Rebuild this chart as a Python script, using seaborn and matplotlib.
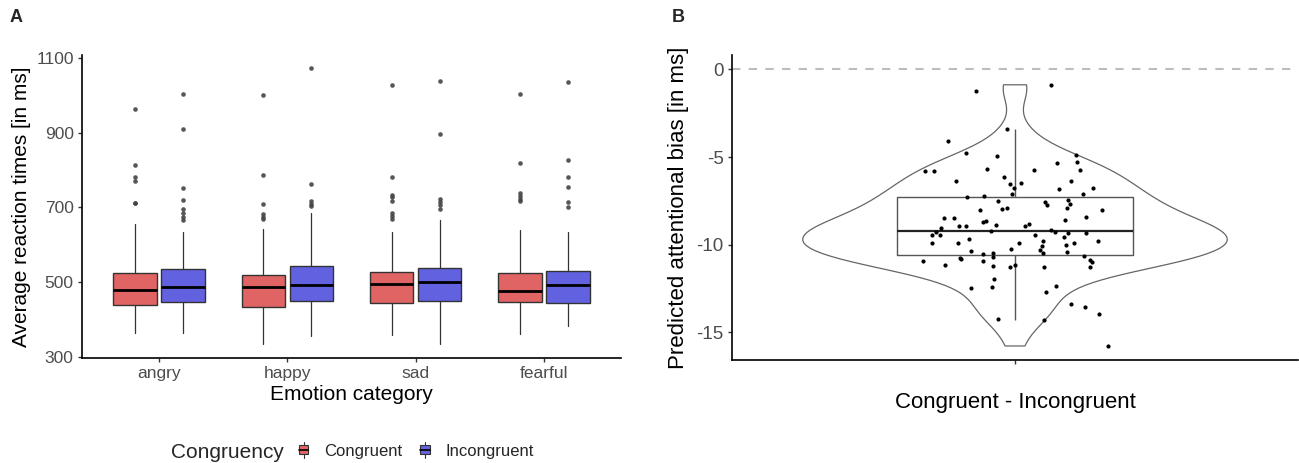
import numpy as np
import pandas as pd
import seaborn as sns
import matplotlib.pyplot as plt
from matplotlib.patches import Patch, Rectangle
from matplotlib.lines import Line2D
from matplotlib.legend_handler import HandlerBase

sns.set_theme(style="ticks")
plt.rcParams['font.family'] = ['Liberation Sans', 'DejaVu Sans']

# ---- panel A: box summaries (ms) ----
emotions = ['angry', 'happy', 'sad', 'fearful']

cong_lo = [364, 333, 357, 360]
cong_q1 = [439, 434, 443, 446]
cong_med = [479, 486, 494, 476]
cong_q3 = [525, 519, 527, 525]
cong_hi = [655, 643, 634, 639]
cong_out = [[965, 813, 783, 770, 711, 711],
            [1001, 787, 709, 683, 675, 669],
            [1028, 781, 733, 727, 718, 684, 678, 670],
            [1003, 820, 738, 731, 722, 718]]

incong_lo = [363, 356, 333, 383]
incong_q1 = [447, 449, 450, 444]
incong_med = [487, 493, 500, 493]
incong_q3 = [534, 544, 537, 531]
incong_hi = [634, 685, 666, 634]
incong_out = [[1004, 910, 753, 721, 696, 686, 675, 666],
              [1073, 762, 717, 710, 704],
              [1038, 897, 723, 714, 707, 697],
              [1036, 828, 781, 756, 715, 700]]

# ---- panel B: predicted attentional bias per participant (ms) + jitter ----
bias = [-1.22, -4.09, -4.79, -5.78, -5.78, -5.70, -6.39, -7.28, -7.23, -8.01,
        -0.88, -3.39, -4.96, -4.91, -5.35, -5.31, -5.73, -5.73, -6.14, -6.35,
        -6.47, -6.56, -6.79, -6.85, -6.75, -7.11, -7.13, -7.53, -7.59, -7.74,
        -7.46, -7.67, -7.95, -7.93, -7.90, -8.04,
        -8.48, -8.48, -8.73, -8.65, -8.94, -8.96, -9.05, -9.26, -9.47, -9.45,
        -9.70, -9.93, -9.91, -10.35, -10.52, -10.78, -10.82, -10.95, -10.94,
        -11.16, -12.49,
        -8.43, -8.88, -8.60, -8.92, -8.81, -9.24, -9.17, -9.30, -9.32, -9.32,
        -9.45, -9.58, -9.78, -9.89, -9.93, -9.79, -10.02, -10.10, -10.25, -10.31,
        -10.42, -10.50, -10.50, -10.69, -10.65, -10.90, -10.99, -11.20, -11.30,
        -11.16, -11.28, -11.26, -11.95, -12.44, -12.38, -12.72, -13.41, -13.56,
        -13.94, -14.26, -14.30, -15.78]
jitter = [-0.083, -0.143, -0.103, -0.191, -0.172, -0.059, -0.126, -0.102, -0.065, -0.074,
          0.077, -0.017, -0.038, 0.129, 0.090, 0.131, 0.040, 0.137, -0.024, 0.118,
          0.012, -0.010, -0.003, 0.094, 0.166, -0.007, 0.145, -0.036, 0.064, 0.067,
          0.113, 0.116, -0.027, -0.018, 0.110, 0.184,
          -0.151, -0.130, -0.068, -0.062, -0.119, -0.104, -0.157, -0.168, -0.176, -0.160,
          -0.097, -0.176, -0.120, -0.093, -0.067, -0.117, -0.115, -0.067, -0.195,
          -0.149, -0.094,
          0.151, -0.040, 0.106, 0.022, 0.029, -0.050, 0.076, 0.084, 0.113, 0.151,
          0.042, 0.103, 0.060, 0.008, 0.125, 0.175, 0.108, 0.058, -0.009, 0.052,
          0.111, 0.060, -0.046, -0.047, 0.146, 0.159, 0.163, -0.047, -0.010,
          0.000, 0.062, 0.158, -0.044, -0.049, 0.087, 0.065, 0.119, 0.149,
          0.178, -0.036, 0.061, 0.198]

RED = '#E06464'
BLUE = '#6262E0'
EDGE = '#333333'
TICKLAB = '#4D4D4D'


class BoxHandler(HandlerBase):
    """small ggplot-like boxplot key"""
    def create_artists(self, legend, orig_handle, xdescent, ydescent,
                       width, height, fontsize, trans):
        x0, y0 = -xdescent, -ydescent
        cx = x0 + width / 2
        wh = Line2D([cx, cx], [y0 - 0.15 * height, y0 + 1.15 * height],
                    color=EDGE, lw=0.8, transform=trans)
        rect = Rectangle((x0, y0 + 0.15 * height), width, 0.7 * height,
                         facecolor=orig_handle.get_facecolor(), edgecolor=EDGE,
                         lw=0.8, transform=trans)
        med = Line2D([x0, x0 + width], [y0 + 0.5 * height] * 2,
                     color='black', lw=1.2, transform=trans)
        return [wh, rect, med]


def style_axes(ax, labelsize):
    sns.despine(ax=ax)
    for s in ['left', 'bottom']:
        ax.spines[s].set_linewidth(1.2)
        ax.spines[s].set_color('black')
    ax.tick_params(length=3, width=1, color=EDGE, labelcolor=TICKLAB,
                   labelsize=labelsize, pad=3)


fig = plt.figure(figsize=(12.99, 4.63), dpi=100)
W, H = 1299, 463
axA = fig.add_axes([82 / W, 105 / H, 539 / W, 303 / H])
axB = fig.add_axes([732 / W, 103 / H, 566 / W, 305 / H])

# ---- A ----
stats = []
pos = []
cols = []
for i in range(len(emotions)):
    stats.append(dict(whislo=cong_lo[i], q1=cong_q1[i], med=cong_med[i],
                      q3=cong_q3[i], whishi=cong_hi[i], fliers=cong_out[i]))
    stats.append(dict(whislo=incong_lo[i], q1=incong_q1[i], med=incong_med[i],
                      q3=incong_q3[i], whishi=incong_hi[i], fliers=incong_out[i]))
    pos += [i - 0.1875, i + 0.1875]
    cols += [RED, BLUE]

bp = axA.bxp(stats, positions=pos, widths=0.3375, patch_artist=True,
             showcaps=False, manage_ticks=False,
             boxprops=dict(edgecolor=EDGE, linewidth=1),
             medianprops=dict(color='black', linewidth=2),
             whiskerprops=dict(color=EDGE, linewidth=0.9),
             flierprops=dict(marker='o', markersize=3.3, markerfacecolor='#444444',
                             markeredgecolor='none', alpha=0.9))
for patch, c in zip(bp['boxes'], cols):
    patch.set_facecolor(c)

axA.set_xlim(-0.6, 3.6)
axA.set_ylim(296.5, 1108.8)
axA.set_xticks(range(len(emotions)))
axA.set_xticklabels(emotions)
axA.set_yticks([300, 500, 700, 900, 1100])
style_axes(axA, 12.5)
axA.set_ylabel('Average reaction times [in ms]', fontsize=15, color='black', labelpad=4)
axA.set_xlabel('Emotion category', fontsize=15, color='black', labelpad=3)

# ---- B ----
df = pd.DataFrame({'contrast': 'Congruent - Incongruent', 'bias': bias})
b = np.asarray(bias)
sd = b.std(ddof=1)
iqr = np.subtract(*np.percentile(b, [75, 25]))
bw = 0.9 * min(sd, iqr / 1.34) / sd * len(b) ** -0.2   # like R's bw.nrd0

axB.axhline(0, color='#BDBDBD', linestyle=(0, (4, 4)), linewidth=1.5, zorder=0)
sns.violinplot(data=df, x='contrast', y='bias', ax=axB, cut=0, inner=None,
               fill=False, color='#666666', linewidth=0.9, width=0.9,
               bw_method=bw)
sns.boxplot(data=df, x='contrast', y='bias', ax=axB, width=0.5, showfliers=False,
            showcaps=False, fill=False, color='#555555', linewidth=1,
            medianprops=dict(color='#222222', linewidth=1.6))
axB.scatter(jitter, bias, s=9, color='black', linewidths=0, zorder=3)

axB.set_xlim(-0.6, 0.6)
axB.set_ylim(-16.58, 0.82)
axB.set_yticks([0, -5, -10, -15])
axB.set_yticklabels(['0', '-5', '-10', '-15'])
axB.set_xticks([0])
axB.set_xticklabels([''])
style_axes(axB, 13.5)
axB.set_ylabel('Predicted attentional bias [in ms]', fontsize=16, color='black', labelpad=5)
axB.set_xlabel('Congruent - Incongruent', fontsize=16, color='black', labelpad=17)

# ---- panel tags + legend ----
fig.text(10 / W, 1 - 17 / H, 'A', fontsize=13, fontweight='bold', va='center')
fig.text(672 / W, 1 - 17 / H, 'B', fontsize=13, fontweight='bold', va='center')

fig.text(171 / W, 1 - 452 / H, 'Congruency', fontsize=15, va='center')
fig.legend(handles=[Patch(facecolor=RED), Patch(facecolor=BLUE)],
           labels=['Congruent', 'Incongruent'],
           handler_map={Patch: BoxHandler()},
           loc='center left', bbox_to_anchor=(299 / W, 1 - 451 / H),
           ncol=2, frameon=False, fontsize=12, handlelength=0.55,
           handleheight=0.8, handletextpad=0.95, columnspacing=1.1,
           borderaxespad=0, borderpad=0)

fig.savefig('out.png', dpi=100, facecolor='white')
